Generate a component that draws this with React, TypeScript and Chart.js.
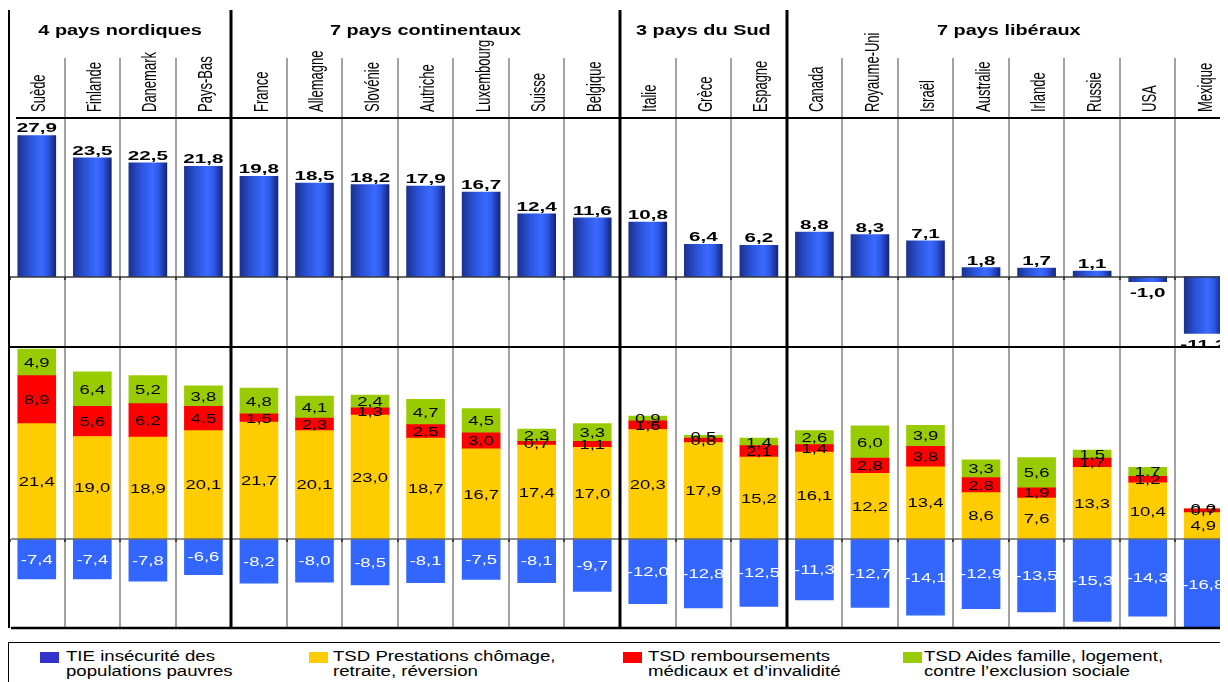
import React, { useEffect, useRef } from 'react';
import { Chart, registerables } from 'chart.js';

Chart.register(...registerables);

const countries = ['Suède', 'Finlande', 'Danemark', 'Pays-Bas', 'France', 'Allemagne', 'Slovénie', 'Autriche', 'Luxembourg', 'Suisse', 'Belgique', 'Italie', 'Grèce', 'Espagne', 'Canada', 'Royaume-Uni', 'Israël', 'Australie', 'Irlande', 'Russie', 'USA', 'Mexique'];
const groupNames = ['4 pays nordiques', '7 pays continentaux', '3 pays du Sud', '7 pays libéraux'];
const groupSizes = [4, 7, 3, 8];

const tieTop = [27.9, 23.5, 22.5, 21.8, 19.8, 18.5, 18.2, 17.9, 16.7, 12.4, 11.6, 10.8, 6.4, 6.2, 8.8, 8.3, 7.1, 1.8, 1.7, 1.1, -1.0, -11.2];
const tsdPrestations = [21.4, 19.0, 18.9, 20.1, 21.7, 20.1, 23.0, 18.7, 16.7, 17.4, 17.0, 20.3, 17.9, 15.2, 16.1, 12.2, 13.4, 8.6, 7.6, 13.3, 10.4, 4.9];
const tsdMedical = [8.9, 5.6, 6.2, 4.5, 1.5, 2.3, 1.3, 2.5, 3.0, 0.7, 1.1, 1.6, 0.8, 2.1, 1.4, 2.8, 3.8, 2.8, 1.9, 1.7, 1.2, 0.7];
const tsdAides = [4.9, 6.4, 5.2, 3.8, 4.8, 4.1, 2.4, 4.7, 4.5, 2.3, 3.3, 0.9, 0.5, 1.4, 2.6, 6.0, 3.9, 3.3, 5.6, 1.5, 1.7, 0.0];
const tieBottom = [-7.4, -7.4, -7.8, -6.6, -8.2, -8.0, -8.5, -8.1, -7.5, -8.1, -9.7, -12.0, -12.8, -12.5, -11.3, -12.7, -14.1, -12.9, -13.5, -15.3, -14.3, -16.8];

const legendItems = [
  { color: '#3333CC', lines: ['TIE insécurité des', 'populations pauvres'] },
  { color: '#FFCC00', lines: ['TSD Prestations chômage,', 'retraite, réversion'] },
  { color: '#FF0000', lines: ['TSD remboursements', 'médicaux et d’invalidité'] },
  { color: '#99CC00', lines: ['TSD Aides famille, logement,', 'contre l’exclusion sociale'] },
];
const legendSquareX = [32, 301, 615, 895];
const legendTextX = [58, 325, 640, 916];

const FONT = '"Liberation Sans", Arial, sans-serif';
const fmt = (v: number) => v.toFixed(1).replace('.', ',');

function stretchedText(ctx: CanvasRenderingContext2D, text: string, x: number, y: number, sx: number) {
  ctx.save();
  ctx.translate(x, y);
  ctx.scale(sx, 1);
  ctx.fillText(text, 0, 0);
  ctx.restore();
}

function groupBounds(): number[] {
  const b: number[] = [];
  let acc = 0;
  for (let i = 0; i < groupSizes.length - 1; i++) {
    acc += groupSizes[i];
    b.push(acc);
  }
  return b;
}

const structurePlugin = {
  id: 'structure',
  beforeDatasetsDraw(chart: any) {
    const { ctx, chartArea } = chart;
    const xs = chart.scales.x;
    const yB = chart.scales.yBot;
    const step = xs.getPixelForValue(1) - xs.getPixelForValue(0);
    const edge = (i: number) => xs.getPixelForValue(i) - step / 2;
    const bounds = groupBounds();
    ctx.save();
    ctx.strokeStyle = '#a3a3a3';
    ctx.lineWidth = 2;
    for (let i = 1; i < countries.length; i++) {
      if (bounds.includes(i)) continue;
      const px = Math.round(edge(i));
      ctx.beginPath();
      ctx.moveTo(px, chartArea.top - 60);
      ctx.lineTo(px, yB.bottom);
      ctx.stroke();
    }
    ctx.restore();
  },
  afterDatasetsDraw(chart: any) {
    const { ctx, chartArea } = chart;
    const xs = chart.scales.x;
    const yT = chart.scales.yTop;
    const yB = chart.scales.yBot;
    const step = xs.getPixelForValue(1) - xs.getPixelForValue(0);
    const edge = (i: number) => xs.getPixelForValue(i) - step / 2;
    const bounds = groupBounds();
    const left = chartArea.left;
    const right = chartArea.right + 20;
    const top = chartArea.top;
    ctx.save();

    const hline = (y: number, x0: number, color: string, w: number) => {
      ctx.strokeStyle = color;
      ctx.lineWidth = w;
      ctx.beginPath();
      ctx.moveTo(x0, y);
      ctx.lineTo(right, y);
      ctx.stroke();
    };
    const ticks = (y: number, color: string) => {
      ctx.strokeStyle = color;
      ctx.lineWidth = 1.5;
      for (let i = 0; i < countries.length; i++) {
        const px = Math.round(edge(i)) + (i === 0 ? 1 : 0);
        ctx.beginPath();
        ctx.moveTo(px, y);
        ctx.lineTo(px, y + 3);
        ctx.stroke();
      }
    };

    hline(Math.round(yT.top), left + 7, '#000', 2);
    const z1 = Math.round(yT.getPixelForValue(0));
    hline(z1, left, '#3a3a3a', 1.5);
    ticks(z1, '#222');
    hline(Math.round(yT.bottom), left - 2, '#000', 2);
    const z2 = Math.round(yB.getPixelForValue(0));
    hline(z2, left + 2, '#666', 1.5);
    ticks(z2, '#222');
    hline(Math.round(yB.bottom), left + 2, '#000', 2.5);

    ctx.strokeStyle = '#000';
    ctx.lineWidth = 2;
    ctx.beginPath();
    ctx.moveTo(left, top - 108);
    ctx.lineTo(left, yB.bottom);
    ctx.stroke();

    ctx.lineWidth = 3;
    for (const b of bounds) {
      const px = Math.round(edge(b));
      ctx.beginPath();
      ctx.moveTo(px, top - 108);
      ctx.lineTo(px, yB.bottom);
      ctx.stroke();
    }

    ctx.fillStyle = '#000';
    ctx.font = `bold 14px ${FONT}`;
    ctx.textAlign = 'center';
    ctx.textBaseline = 'middle';
    let start = 0;
    groupNames.forEach((g, gi) => {
      const end = start + groupSizes[gi];
      const cx = (edge(start) + edge(end)) / 2;
      stretchedText(ctx, g, cx, top - 87, 1.42);
      start = end;
    });

    ctx.font = `13px ${FONT}`;
    ctx.textAlign = 'left';
    ctx.textBaseline = 'middle';
    countries.forEach((c, i) => {
      const cx = xs.getPixelForValue(i);
      ctx.save();
      ctx.translate(cx + 3, top - 6);
      ctx.rotate(-Math.PI / 2);
      ctx.scale(1, 1.55);
      ctx.fillText(c, 0, 0);
      ctx.restore();
    });
    ctx.restore();

    chart.data.datasets.forEach((ds: any, di: number) => {
      const meta = chart.getDatasetMeta(di);
      const isTop = ds.yAxisID === 'yTop';
      const sc = isTop ? yT : yB;
      ctx.save();
      ctx.beginPath();
      ctx.rect(chartArea.left, sc.top + 1, chartArea.right - chartArea.left + 20, sc.bottom - sc.top - 2);
      ctx.clip();
      ctx.fillStyle = ds.labelColor;
      ctx.textAlign = 'center';
      meta.data.forEach((el: any, i: number) => {
        const v = ds.data[i];
        const p = el.getProps(['x', 'y', 'base'], true);
        if (isTop) {
          ctx.font = `bold 12px ${FONT}`;
          if (v >= 0) {
            ctx.textBaseline = 'alphabetic';
            stretchedText(ctx, fmt(v), p.x, p.y - 3, 1.72);
          } else {
            ctx.textBaseline = 'top';
            stretchedText(ctx, fmt(v), p.x, p.y + 6, 1.72);
          }
        } else {
          ctx.font = `13px ${FONT}`;
          ctx.textBaseline = 'middle';
          stretchedText(ctx, fmt(v), p.x, (p.y + p.base) / 2 + 1, 1.42);
        }
      });
      ctx.restore();
    });
  },
};

function topGradient(c: any) {
  const chart = c.chart;
  const xs = chart && chart.scales && chart.scales.x;
  if (!xs || c.type !== 'data' || c.dataIndex === undefined) return '#2f5ce8';
  const cx = xs.getPixelForValue(c.dataIndex);
  if (!Number.isFinite(cx)) return '#2f5ce8';
  const g = chart.ctx.createLinearGradient(cx - 19, 0, cx + 19, 0);
  g.addColorStop(0, '#1a318f');
  g.addColorStop(0.3, '#2a52d6');
  g.addColorStop(0.62, '#3a6aff');
  g.addColorStop(0.78, '#2d58e6');
  g.addColorStop(1, '#16247a');
  return g;
}

export default function App() {
  const canvasRef = useRef<HTMLCanvasElement | null>(null);

  useEffect(() => {
    const canvas = canvasRef.current;
    if (!canvas) return;
    const common = { grouped: false, barThickness: 38, borderWidth: 0 };
    const chart = new Chart(canvas, {
      type: 'bar',
      data: {
        labels: countries,
        datasets: [
          { ...common, label: 'TIE', data: tieTop, yAxisID: 'yTop', backgroundColor: topGradient, labelColor: '#000' } as any,
          { ...common, label: 'TSD Prestations', data: tsdPrestations, yAxisID: 'yBot', stack: 'bot', backgroundColor: '#FFCC00', labelColor: '#000' } as any,
          { ...common, label: 'TSD remboursements', data: tsdMedical, yAxisID: 'yBot', stack: 'bot', backgroundColor: '#FF0000', labelColor: '#000' } as any,
          { ...common, label: 'TSD Aides', data: tsdAides, yAxisID: 'yBot', stack: 'bot', backgroundColor: '#99CC00', labelColor: '#000' } as any,
          { ...common, label: 'TIE bas', data: tieBottom, yAxisID: 'yBot', stack: 'bot', backgroundColor: '#3366FF', labelColor: '#fff' } as any,
        ],
      },
      options: {
        animation: false,
        responsive: false,
        maintainAspectRatio: false,
        events: [],
        layout: { padding: { left: 1, top: 110, right: 0, bottom: 6 } },
        plugins: { legend: { display: false }, tooltip: { enabled: false } },
        scales: {
          x: { type: 'category', offset: true, display: false, grid: { display: false } },
          yTop: { type: 'linear', position: 'right', stack: 'panels', stackWeight: 229, min: -13.9, max: 31.35, display: false },
          yBot: { type: 'linear', position: 'right', stack: 'panels', stackWeight: 281, min: -16.5, max: 35.6, stacked: true, display: false },
        } as any,
      },
      plugins: [structurePlugin],
    });
    return () => chart.destroy();
  }, []);

  return (
    <div style={{ position: 'relative', width: 1220, height: 674, overflow: 'hidden', fontFamily: FONT, background: '#fff' }}>
      <canvas ref={canvasRef} width={1223} height={626} style={{ position: 'absolute', left: 0, top: 0, width: 1223, height: 626 }} />
      <div style={{ position: 'absolute', left: 0, top: 634, width: 1217, height: 70, border: '1.5px solid #000', boxSizing: 'border-box' }} />
      {legendItems.map((it, i) => (
        <React.Fragment key={i}>
          <div style={{ position: 'absolute', left: legendSquareX[i], top: 644, width: 19, height: 11, background: it.color }} />
          <div style={{ position: 'absolute', left: legendTextX[i], top: 641, fontSize: 14, lineHeight: '15px', whiteSpace: 'nowrap', transform: 'scaleX(1.33)', transformOrigin: 'left top', color: '#000' }}>
            {it.lines.map((l, j) => (<div key={j}>{l}</div>))}
          </div>
        </React.Fragment>
      ))}
    </div>
  );
}
